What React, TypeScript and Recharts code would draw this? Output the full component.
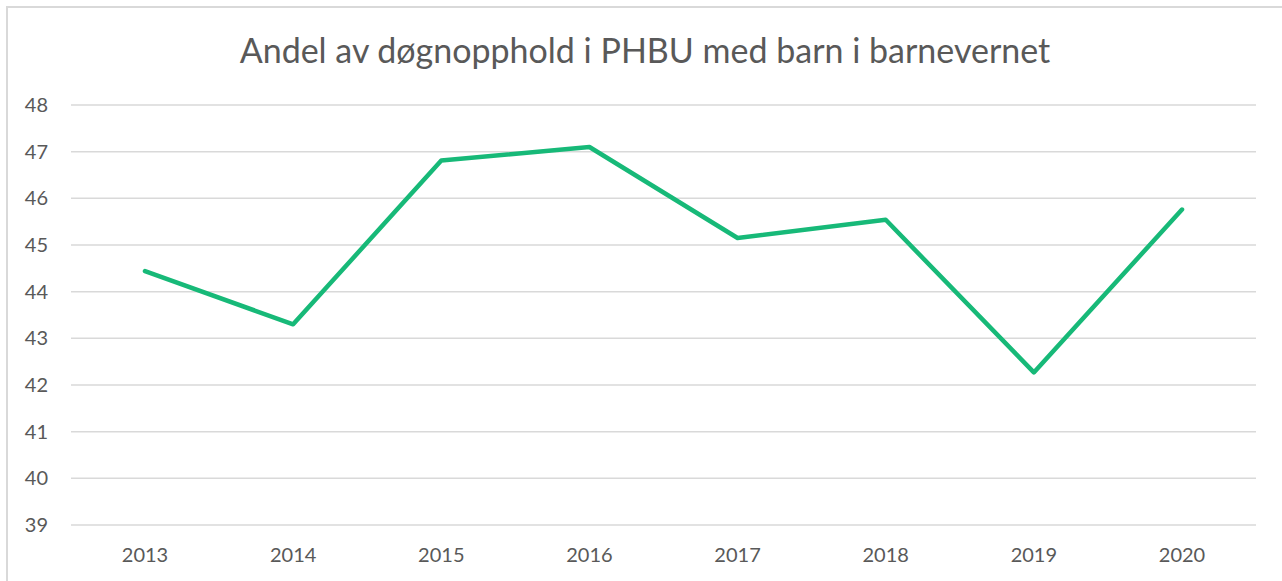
import React from "react";
import { LineChart, Line, XAxis, YAxis, CartesianGrid } from "recharts";

const years = ["2013", "2014", "2015", "2016", "2017", "2018", "2019", "2020"];
const shares = [44.44, 43.3, 46.81, 47.1, 45.15, 45.54, 42.27, 45.76];
const yTicks = [39, 40, 41, 42, 43, 44, 45, 46, 47, 48];

const data = years.map((y, i) => ({ year: y, value: shares[i] }));

const FONT = "Lato, 'Open Sans', sans-serif";
const TEXT = "#595959";

export default function App() {
  return (
    <div
      style={{
        position: "fixed",
        left: 0,
        top: 0,
        width: 1282,
        height: 581,
        overflow: "hidden",
        background: "#ffffff",
        fontFamily: FONT,
      }}
    >
      <div
        style={{
          position: "absolute",
          left: 0,
          width: 1290,
          top: 27,
          textAlign: "center",
          fontSize: 34,
          color: TEXT,
          lineHeight: "46px",
        }}
      >
        Andel av døgnopphold i PHBU med barn i barnevernet
      </div>
      <div style={{ position: "absolute", left: 0, top: 0 }}>
        <LineChart
          width={1282}
          height={581}
          data={data}
          margin={{ top: 105, right: 26, bottom: 26, left: 0 }}
        >
          <CartesianGrid vertical={false} stroke="#D9D9D9" strokeWidth={1.5} />
          <XAxis
            dataKey="year"
            axisLine={false}
            tickLine={false}
            tickSize={0}
            tickMargin={23}
            height={30}
            padding={{ left: 74, right: 74 }}
            tick={{ fill: TEXT, fontSize: 20, fontFamily: FONT }}
          />
          <YAxis
            domain={[39, 48]}
            ticks={yTicks}
            interval={0}
            axisLine={false}
            tickLine={false}
            tickSize={0}
            tickMargin={23}
            width={71}
            tick={{ fill: TEXT, fontSize: 20, fontFamily: FONT }}
          />
          <Line
            type="linear"
            dataKey="value"
            stroke="#17B978"
            strokeWidth={4.5}
            strokeLinecap="round"
            strokeLinejoin="round"
            dot={false}
            activeDot={false}
            isAnimationActive={false}
          />
        </LineChart>
      </div>
      <div
        style={{
          position: "absolute",
          left: 6,
          top: 6,
          width: 1276,
          height: 2,
          background: "#D9D9D9",
          zIndex: 2,
        }}
      />
      <div
        style={{
          position: "absolute",
          left: 6,
          top: 6,
          width: 2,
          height: 575,
          background: "#D9D9D9",
          zIndex: 2,
        }}
      />
    </div>
  );
}
